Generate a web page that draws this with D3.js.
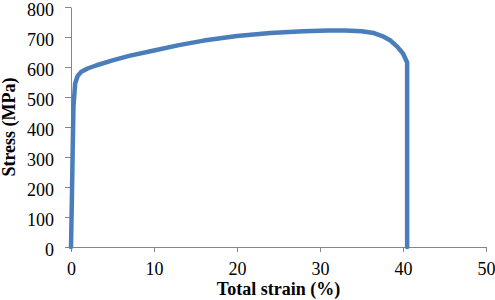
<!DOCTYPE html>
<html>
<head>
<meta charset="utf-8">
<script src="https://cdn.jsdelivr.net/npm/d3@7"></script>
<style>
  body { margin: 0; background: #fff; }
  svg { display: block; }
  .axis path, .axis line { stroke: #868686; stroke-width: 1; }
  .axis text { font-family: "Liberation Serif", "Times New Roman", serif; font-size: 18px; fill: #000; }
  .title { font-family: "Liberation Serif", "Times New Roman", serif; font-size: 18px; font-weight: bold; }
</style>
</head>
<body>
<div id="chart"></div>
<script>
var width = 495,
    height = 300;

// tensile test curve
var strain = [0, 0.1, 0.2, 0.3, 0.5, 0.8, 1.2, 2, 3, 5, 7, 10, 13, 16, 20, 24, 28, 31, 33, 35, 36.5, 37.5, 38.5, 39.3, 40, 40.5, 40.5];
var stress = [0, 150, 320, 470, 545, 570, 583, 595, 605, 622, 637, 655, 673, 688, 703, 713, 719, 722, 722, 719, 713, 703, 688, 668, 645, 615, 0];

var xTicks = [0, 10, 20, 30, 40, 50];
var yTicks = [0, 100, 200, 300, 400, 500, 600, 700, 800];

var margin = { top: 7, right: 9, bottom: 53, left: 71 };

var svg = d3.select("#chart").append("svg")
    .attr("width", width)
    .attr("height", height);

var x = d3.scaleLinear()
    .domain([0, 50])
    .range([margin.left, width - margin.right]);

var y = d3.scaleLinear()
    .domain([0, 800])
    .range([height - margin.bottom, margin.top]);

// axes
var gx = svg.append("g")
    .attr("class", "axis")
    .attr("transform", "translate(0," + y(0) + ")")
    .call(d3.axisBottom(x).tickValues(xTicks).tickSize(5).tickSizeOuter(0).tickPadding(10));

var gy = svg.append("g")
    .attr("class", "axis")
    .attr("transform", "translate(" + x(0) + ",0)")
    .call(d3.axisLeft(y).tickValues(yTicks).tickSize(6).tickSizeOuter(0).tickPadding(11));

gy.selectAll("text").attr("dy", "0.45em");

// the curve
var pts = strain.map(function(d, i) { return [d, stress[i]]; });

var line = d3.line()
    .x(function(d) { return x(d[0]); })
    .y(function(d) { return y(d[1]); });

svg.append("path")
    .datum(pts)
    .attr("d", line)
    .attr("fill", "none")
    .attr("stroke", "#4a7ebb")
    .attr("stroke-width", 4.5)
    .attr("stroke-linejoin", "round")
    .attr("stroke-linecap", "round");

// axis titles
svg.append("text")
    .attr("class", "title")
    .attr("x", (x(0) + x(50)) / 2)
    .attr("y", 295)
    .attr("text-anchor", "middle")
    .text("Total strain (%)");

svg.append("text")
    .attr("class", "title")
    .attr("transform", "translate(15," + 127 + ") rotate(-90)")
    .attr("text-anchor", "middle")
    .text("Stress (MPa)");
</script>
</body>
</html>
